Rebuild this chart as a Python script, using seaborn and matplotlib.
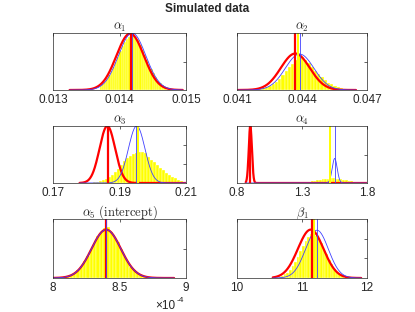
import numpy as np
import pandas as pd
import matplotlib
matplotlib.use('Agg')
import matplotlib.pyplot as plt
import seaborn as sns

# panel text and axes
titles = [r'$\alpha_1$', r'$\alpha_2$', r'$\alpha_3$', r'$\alpha_4$',
          r'$\alpha_5\ \mathrm{(intercept)}$', r'$\beta_1$']
xlims = [(0.013, 0.015), (0.041, 0.047), (0.17, 0.21), (0.8, 1.8), (8.0, 9.0), (10, 12)]
xticks = [[0.013, 0.014, 0.015], [0.041, 0.044, 0.047], [0.17, 0.19, 0.21],
          [0.8, 1.3, 1.8], [8, 8.5, 9], [10, 11, 12]]
xticklabels = [['0.013', '0.014', '0.015'], ['0.041', '0.044', '0.047'],
               ['0.17', '0.19', '0.21'], ['0.8', '1.3', '1.8'],
               ['8', '8.5', '9'], ['10', '11', '12']]
yticks = [[0.5], [0.5], [0.33, 0.67], [0.49], [0.5], [0.34, 0.66]]

# histogram of simulated draws (bin start, bin width, heights as fraction of axis)
hist_start = [0.0137, 0.0420, 0.1820, 1.29, 8.05, 10.64]
hist_width = [0.0000333, 0.00015, 0.0009, 0.02, 0.025, 0.04]
hist_heights = [
    [0.07, 0.10, 0.14, 0.20, 0.26, 0.33, 0.41, 0.50, 0.58, 0.68, 0.77, 0.84, 0.90, 0.93, 0.95,
     0.94, 0.92, 0.87, 0.79, 0.71, 0.62, 0.53, 0.44, 0.36, 0.29, 0.22, 0.16, 0.12, 0.09, 0.06],
    [0.02, 0.03, 0.05, 0.07, 0.10, 0.14, 0.19, 0.26, 0.33, 0.41, 0.46, 0.52, 0.60, 0.58,
     0.53, 0.47, 0.40, 0.34, 0.28, 0.22, 0.17, 0.13, 0.10, 0.07, 0.05, 0.03, 0.02],
    [0.01, 0.02, 0.03, 0.05, 0.07, 0.10, 0.14, 0.20, 0.25, 0.32, 0.38, 0.44, 0.48, 0.51, 0.53,
     0.55, 0.55, 0.52, 0.46, 0.41, 0.36, 0.31, 0.26, 0.22, 0.18, 0.14, 0.11, 0.08, 0.05, 0.03],
    [0.005, 0.01, 0.015, 0.02, 0.03, 0.035, 0.045, 0.055, 0.065, 0.07, 0.075, 0.08,
     0.08, 0.075, 0.07, 0.065, 0.055, 0.045, 0.035, 0.03, 0.02, 0.015, 0.01, 0.005],
    [0.007, 0.015, 0.028, 0.048, 0.08, 0.13, 0.20, 0.28, 0.38, 0.49, 0.60, 0.71, 0.78, 0.85, 0.86,
     0.78, 0.69, 0.61, 0.50, 0.37, 0.29, 0.19, 0.13, 0.08, 0.05, 0.027, 0.015, 0.008, 0.004, 0.002],
    [0.02, 0.035, 0.06, 0.09, 0.14, 0.20, 0.27, 0.36, 0.45, 0.55, 0.63, 0.70, 0.74,
     0.75, 0.72, 0.67, 0.59, 0.50, 0.41, 0.31, 0.23, 0.16, 0.11, 0.07, 0.045],
]

# normal densities: red (thick) and blue (thin), as mean, sd, peak height
red_mean = [0.01416, 0.04369, 0.18634, 0.9026, 8.40, 11.134]
red_sd = [0.000207, 0.000667, 0.00234, 0.012, 0.11, 0.196]
red_peak = [0.99, 0.64, 1.0, 1.0, 0.82, 0.82]
blue_mean = [0.01419, 0.04389, 0.19517, 1.5515, 8.40, 11.23]
blue_sd = [0.000205, 0.00066, 0.00247, 0.019, 0.11, 0.175]
blue_peak = [1.0, 0.63, 1.0, 0.43, 0.82, 0.81]
curve_lo = [0.01325, 0.04105, 0.178, 0.867, 8.0, 10.55]
curve_hi = [0.01495, 0.04649, 0.21, 1.8, 8.91, 11.91]

# vertical marker lines
red_line = [0.01417, 0.04368, 0.18654, 0.9026, 8.398, 11.159]
yellow_line = [0.01418, 0.04383, 0.1955, 1.513, 8.398, 11.19]
blue_line = [0.01419, 0.04389, 0.19505, 1.5515, 8.40, 11.23]

sns.set_style('white')
plt.rcParams['font.family'] = ['Liberation Sans', 'DejaVu Sans']

W, H = 415, 312
fig = plt.figure(figsize=(W / 100, H / 100), dpi=100)
boxes = [(53, 33, 133, 57), (237, 33, 130, 57), (53, 126, 133, 57),
         (237, 126, 130, 57), (53, 219, 133, 59), (237, 219, 130, 59)]

for i, (l, t, w, h) in enumerate(boxes):
    ax = fig.add_axes([l / W, 1 - (t + h) / H, w / W, h / H])
    n = len(hist_heights[i])
    centers = hist_start[i] + hist_width[i] * (np.arange(n) + 0.5)
    hist_df = pd.DataFrame({'x': centers, 'w': hist_heights[i]})
    sns.histplot(data=hist_df, x='x', weights='w', bins=n,
                 binrange=(hist_start[i], hist_start[i] + n * hist_width[i]), ax=ax,
                 color='#ffff00', edgecolor='white', linewidth=0.25, alpha=1)

    grid = np.linspace(curve_lo[i], curve_hi[i], 500)
    red_y = red_peak[i] * np.exp(-0.5 * ((grid - red_mean[i]) / red_sd[i]) ** 2)
    blue_y = blue_peak[i] * np.exp(-0.5 * ((grid - blue_mean[i]) / blue_sd[i]) ** 2)
    sns.lineplot(x=grid, y=red_y, ax=ax, color='#ff0000', linewidth=1.6,
                 estimator=None, zorder=3)
    sns.lineplot(x=grid, y=blue_y, ax=ax, color='#4040ff', linewidth=0.6,
                 estimator=None, zorder=4)

    ax.axvline(yellow_line[i], color='#ffff00', linewidth=1.4, zorder=5)
    ax.axvline(red_line[i], color='#ff0000', linewidth=1.6, zorder=6)
    ax.axvline(blue_line[i], color='#4040ff', linewidth=0.6, zorder=7)

    ax.set_xlim(xlims[i])
    ax.set_ylim(0, 1)
    ax.set_xticks(xticks[i])
    ax.set_xticklabels(xticklabels[i])
    ax.set_yticks(yticks[i])
    ax.set_yticklabels([])
    ax.set_xlabel('')
    ax.set_ylabel('')
    ax.tick_params(direction='in', length=2.5, width=0.5, top=True, right=True,
                   colors='#262626', labelsize=8.5, pad=3)
    for s in ax.spines.values():
        s.set_color('#262626')
        s.set_linewidth(0.5)
        s.set_zorder(8)
    ax.set_title(titles[i], fontsize=9, pad=2.5, math_fontfamily='cm', color='#262626')

fig.text(0.5, 1 - 9 / H, 'Simulated data', ha='center', va='center',
         fontweight='bold', fontsize=8.5)
fig.text(155 / W, 1 - 309 / H, '\u00d710', ha='left', va='baseline', fontsize=8.5,
         color='#262626')
fig.text(177 / W, 1 - 302 / H, '-4', ha='left', va='baseline', fontsize=6,
         color='#262626')

fig.savefig('out.png', dpi=100)
